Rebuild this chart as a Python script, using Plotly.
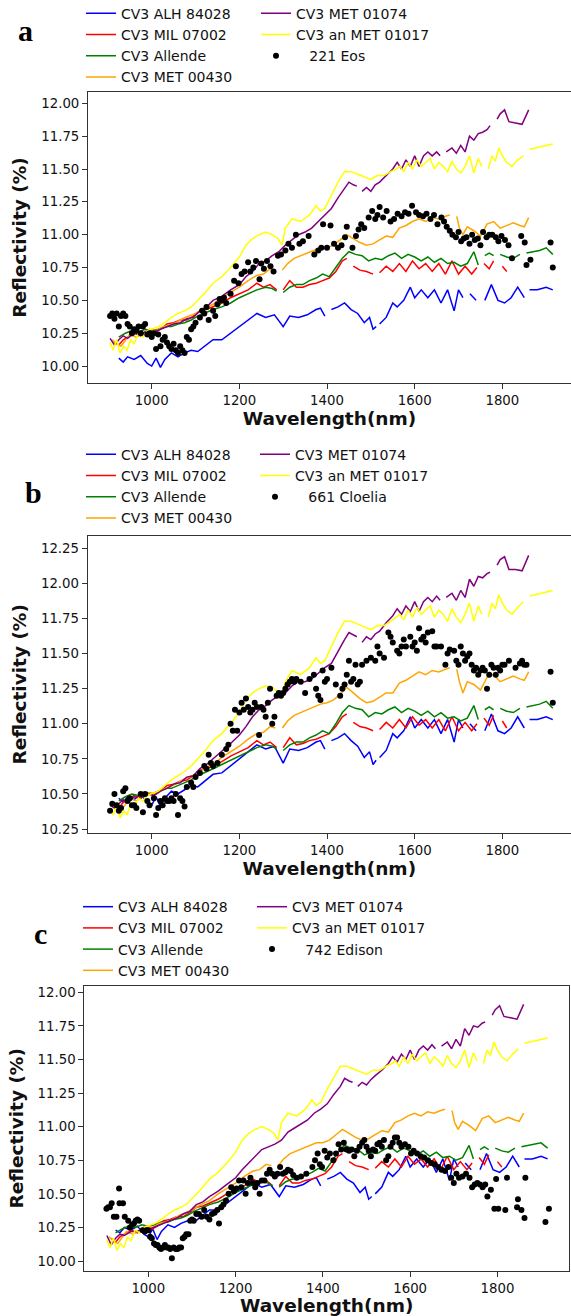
import plotly.graph_objects as go

W, H = 571, 1316

# ---------------- data ----------------
# Wavelength grids (nm) of each meteorite spectrum (None in values = gap)
wl_alh = [925, 935, 945, 960, 975, 990, 1000, 1010, 1020, 1030,
          1045, 1060, 1075, 1090, 1105, 1120, 1140, 1160, 1180, 1200,
          1220, 1240, 1260, 1280, 1300, 1315, 1335, 1355, 1375, 1385,
          1395, 1403, 1410, 1425, 1440, 1455, 1470, 1485, 1497, 1505,
          1512, 1516, 1520, 1535, 1550, 1560, 1575, 1590, 1600, 1615,
          1630, 1645, 1660, 1675, 1690, 1700, 1710, 1718, 1726, 1740,
          1750, 1760, 1775, 1790, 1805, 1820, 1835, 1850, 1856, 1862,
          1880, 1900, 1915]
alh_a = [10.06, 10.03, 10.07, 10.05, 10.08, 10.02, 10.00, 10.06, 9.99, 10.05,
         10.10, 10.07, 10.10, 10.12, 10.11, 10.15, 10.20, 10.20, 10.25, 10.30,
         10.35, 10.40, 10.37, 10.39, 10.30, 10.38, 10.37, 10.39, 10.43, 10.44,
         10.38, None, 10.43, 10.45, 10.48, 10.43, 10.40, 10.33, 10.37, 10.28,
         10.30, None, 10.32, 10.37, 10.48, 10.45, 10.50, 10.60, 10.52, 10.58,
         10.52, 10.58, 10.48, 10.58, 10.42, 10.58, 10.52, None, 10.55, 10.50,
         None, 10.50, 10.62, 10.50, 10.48, 10.52, 10.60, 10.52, None, 10.58,
         10.58, 10.60, 10.58]
alh_b = [10.47, 10.44, 10.48, 10.46, 10.50, 10.44, 10.42, 10.48, 10.41, 10.47,
         10.52, 10.50, 10.53, 10.56, 10.55, 10.59, 10.64, 10.65, 10.70, 10.75,
         10.80, 10.85, 10.82, 10.84, 10.72, 10.82, 10.81, 10.83, 10.87, 10.88,
         10.82, None, 10.88, 10.90, 10.93, 10.88, 10.84, 10.76, 10.80, 10.71,
         10.74, None, 10.76, 10.81, 10.93, 10.90, 10.95, 11.05, 10.97, 11.03,
         10.97, 11.03, 10.93, 11.03, 10.87, 11.03, 10.97, None, 11.00, 10.95,
         None, 10.95, 11.07, 10.95, 10.93, 10.97, 11.05, 10.97, None, 11.03,
         11.03, 11.05, 11.03]
alh_c = [10.23, 10.21, 10.25, 10.23, 10.26, 10.20, 10.18, 10.24, 10.16, 10.22,
         10.27, 10.25, 10.28, 10.30, 10.29, 10.33, 10.38, 10.38, 10.43, 10.48,
         10.53, 10.58, 10.55, 10.57, 10.48, 10.56, 10.55, 10.57, 10.61, 10.62,
         10.56, None, 10.61, 10.63, 10.66, 10.61, 10.58, 10.51, 10.55, 10.46,
         10.48, None, 10.50, 10.55, 10.66, 10.63, 10.68, 10.78, 10.70, 10.76,
         10.70, 10.76, 10.66, 10.76, 10.60, 10.76, 10.70, None, 10.73, 10.68,
         None, 10.68, 10.80, 10.68, 10.66, 10.70, 10.78, 10.70, None, 10.76,
         10.76, 10.78, 10.76]

wl_mil = [915, 925, 935, 945, 960, 975, 990, 1005, 1020, 1035,
          1050, 1065, 1080, 1095, 1110, 1125, 1140, 1160, 1180, 1200,
          1220, 1240, 1255, 1270, 1285, 1292, 1300, 1315, 1330, 1345,
          1360, 1375, 1390, 1405, 1420, 1435, 1445, 1452, 1460, 1475,
          1490, 1505, 1512, 1520, 1535, 1550, 1565, 1580, 1595, 1610,
          1625, 1640, 1655, 1670, 1685, 1700, 1715, 1730, 1742, 1750,
          1758, 1770, 1780, 1790, 1800, 1810]
mil_a = [10.18, 10.16, 10.20, 10.22, 10.25, 10.23, 10.27, 10.25, 10.28, 10.32,
         10.33, 10.35, 10.35, 10.38, 10.42, 10.43, 10.45, 10.48, 10.52, 10.55,
         10.58, 10.63, 10.60, 10.62, 10.58, None, 10.58, 10.65, 10.60, 10.60,
         10.62, 10.63, 10.65, 10.67, 10.72, 10.80, 10.82, None, 10.76, 10.73,
         10.72, 10.70, None, 10.71, 10.76, 10.72, 10.78, 10.72, 10.80, 10.74,
         10.78, 10.72, 10.78, 10.70, 10.80, 10.70, 10.76, 10.70, 10.75, None,
         10.78, 10.74, 10.80, None, 10.76, 10.72]
mil_b = [10.42, 10.40, 10.44, 10.46, 10.49, 10.47, 10.51, 10.49, 10.52, 10.56,
         10.57, 10.59, 10.60, 10.63, 10.67, 10.68, 10.70, 10.73, 10.77, 10.80,
         10.83, 10.88, 10.85, 10.87, 10.83, None, 10.83, 10.90, 10.85, 10.86,
         10.88, 10.89, 10.91, 10.93, 10.98, 11.05, 11.07, None, 11.01, 10.98,
         10.97, 10.95, None, 10.96, 11.01, 10.97, 11.03, 10.97, 11.05, 10.99,
         11.03, 10.97, 11.03, 10.95, 11.05, 10.95, 11.01, 10.95, 11.00, None,
         11.04, 10.99, 11.06, None, 11.02, 10.97]
mil_c = [10.17, 10.14, 10.18, 10.20, 10.23, 10.21, 10.25, 10.23, 10.26, 10.30,
         10.31, 10.33, 10.33, 10.36, 10.40, 10.41, 10.43, 10.46, 10.50, 10.53,
         10.56, 10.61, 10.58, 10.60, 10.56, None, 10.56, 10.63, 10.58, 10.58,
         10.60, 10.61, 10.63, 10.65, 10.70, 10.78, 10.80, None, 10.74, 10.71,
         10.70, 10.68, None, 10.69, 10.74, 10.70, 10.76, 10.70, 10.78, 10.72,
         10.76, 10.70, 10.76, 10.68, 10.78, 10.68, 10.74, 10.68, 10.73, None,
         10.77, 10.72, 10.79, None, 10.74, 10.70]

wl_allende = [925, 940, 955, 970, 985, 1000, 1015, 1030, 1045, 1060,
              1075, 1090, 1105, 1120, 1140, 1160, 1180, 1200, 1220, 1240,
              1260, 1275, 1285, 1293, 1300, 1315, 1330, 1345, 1360, 1375,
              1390, 1405, 1420, 1435, 1450, 1465, 1480, 1495, 1510, 1525,
              1540, 1555, 1570, 1585, 1600, 1615, 1630, 1645, 1660, 1675,
              1690, 1705, 1720, 1735, 1745, 1752, 1760, 1770, 1780, 1787,
              1795, 1810, 1825, 1840, 1848, 1855, 1870, 1885, 1900, 1915]
allende_a = [10.22, 10.25, 10.27, 10.26, 10.28, 10.27, 10.28, 10.30, 10.30, 10.32,
             10.33, 10.35, 10.38, 10.40, 10.43, 10.45, 10.48, 10.52, 10.55, 10.58,
             10.60, 10.59, 10.57, None, 10.56, 10.60, 10.62, 10.62, 10.65, 10.67,
             10.70, 10.68, 10.75, 10.82, 10.87, 10.85, 10.84, 10.80, 10.82, 10.81,
             10.84, 10.86, 10.82, 10.85, 10.83, 10.80, 10.83, 10.79, 10.82, 10.78,
             10.79, 10.76, 10.78, 10.87, 10.77, None, 10.84, 10.86, 10.84, None,
             10.85, 10.83, 10.82, 10.85, None, 10.86, 10.87, 10.88, 10.90, 10.85]
allende_b = [10.45, 10.48, 10.50, 10.49, 10.51, 10.50, 10.52, 10.54, 10.54, 10.56,
             10.58, 10.60, 10.63, 10.65, 10.68, 10.71, 10.74, 10.77, 10.80, 10.83,
             10.85, 10.84, 10.82, None, 10.81, 10.85, 10.87, 10.87, 10.90, 10.92,
             10.95, 10.93, 11.00, 11.08, 11.13, 11.11, 11.10, 11.05, 11.08, 11.07,
             11.10, 11.12, 11.08, 11.11, 11.09, 11.06, 11.09, 11.05, 11.08, 11.04,
             11.05, 11.02, 11.04, 11.13, 11.03, None, 11.10, 11.12, 11.10, None,
             11.11, 11.09, 11.08, 11.11, None, 11.12, 11.13, 11.14, 11.16, 11.11]
allende_c = [10.21, 10.24, 10.26, 10.25, 10.27, 10.26, 10.27, 10.29, 10.29, 10.31,
             10.32, 10.34, 10.37, 10.39, 10.42, 10.44, 10.47, 10.51, 10.54, 10.57,
             10.59, 10.58, 10.56, None, 10.55, 10.59, 10.61, 10.61, 10.64, 10.66,
             10.69, 10.67, 10.74, 10.81, 10.86, 10.84, 10.83, 10.79, 10.81, 10.80,
             10.83, 10.85, 10.81, 10.84, 10.82, 10.79, 10.82, 10.78, 10.81, 10.77,
             10.78, 10.75, 10.77, 10.86, 10.76, None, 10.83, 10.85, 10.83, None,
             10.84, 10.82, 10.81, 10.84, None, 10.85, 10.86, 10.87, 10.88, 10.84]

wl_met00430 = [910, 920, 930, 940, 950, 965, 980, 995, 1010, 1025,
               1040, 1055, 1070, 1085, 1100, 1120, 1140, 1160, 1180, 1200,
               1220, 1240, 1255, 1270, 1282, 1290, 1298, 1310, 1325, 1340,
               1355, 1370, 1385, 1400, 1415, 1430, 1445, 1460, 1475, 1490,
               1505, 1520, 1535, 1550, 1565, 1580, 1595, 1610, 1625, 1640,
               1655, 1670, 1680, 1688, 1696, 1702, 1710, 1720, 1735, 1750,
               1765, 1780, 1795, 1810, 1825, 1840, 1850, 1860]
met00430_a = [10.20, 10.17, 10.15, 10.20, 10.24, 10.22, 10.25, 10.28, 10.27, 10.30,
              10.31, 10.33, 10.36, 10.38, 10.40, 10.44, 10.47, 10.52, 10.56, 10.60,
              10.65, 10.69, 10.70, 10.74, 10.73, None, 10.73, 10.78, 10.82, 10.84,
              10.86, 10.88, 10.90, 10.90, 10.92, 10.96, 11.00, 10.97, 10.94, 10.92,
              10.93, 10.96, 10.99, 10.98, 11.05, 11.07, 11.10, 11.12, 11.10, 11.13,
              11.12, 11.14, 11.15, None, 11.14, 11.05, 11.00, 11.06, 11.03, 10.99,
              11.08, 11.10, 11.05, 11.07, 11.09, 11.07, 11.06, 11.13]
met00430_b = [10.43, 10.40, 10.38, 10.43, 10.47, 10.45, 10.48, 10.51, 10.50, 10.53,
              10.55, 10.57, 10.60, 10.62, 10.64, 10.68, 10.71, 10.76, 10.80, 10.84,
              10.89, 10.93, 10.94, 10.98, 10.97, None, 10.97, 11.02, 11.06, 11.08,
              11.10, 11.12, 11.14, 11.15, 11.17, 11.21, 11.26, 11.22, 11.18, 11.15,
              11.16, 11.19, 11.22, 11.22, 11.29, 11.31, 11.34, 11.37, 11.35, 11.38,
              11.37, 11.39, 11.40, None, 11.39, 11.30, 11.22, 11.30, 11.28, 11.24,
              11.33, 11.35, 11.30, 11.32, 11.34, 11.32, 11.31, 11.37]
met00430_c = [10.18, 10.15, 10.13, 10.18, 10.22, 10.20, 10.23, 10.26, 10.25, 10.28,
              10.29, 10.31, 10.34, 10.36, 10.38, 10.42, 10.45, 10.50, 10.54, 10.58,
              10.63, 10.67, 10.68, 10.72, 10.71, None, 10.71, 10.76, 10.80, 10.82,
              10.84, 10.86, 10.88, 10.88, 10.90, 10.94, 10.98, 10.95, 10.92, 10.90,
              10.91, 10.94, 10.97, 10.96, 11.03, 11.05, 11.08, 11.10, 11.08, 11.11,
              11.10, 11.12, 11.13, None, 11.12, 11.03, 10.98, 11.04, 11.01, 10.97,
              11.06, 11.08, 11.03, 11.05, 11.07, 11.05, 11.04, 11.10]

wl_met01074 = [905, 915, 925, 935, 945, 960, 975, 990, 1005, 1020,
               1035, 1050, 1065, 1080, 1095, 1110, 1125, 1140, 1160, 1180,
               1200, 1215, 1230, 1245, 1260, 1275, 1290, 1305, 1320, 1335,
               1350, 1365, 1380, 1395, 1410, 1425, 1440, 1450, 1460, 1468,
               1474, 1480, 1490, 1500, 1510, 1520, 1535, 1550, 1560, 1570,
               1580, 1590, 1600, 1610, 1620, 1630, 1640, 1650, 1658, 1665,
               1672, 1685, 1695, 1705, 1715, 1725, 1735, 1745, 1755, 1765,
               1772, 1780, 1788, 1795, 1805, 1815, 1830, 1845, 1860]
met01074_a = [10.21, 10.16, 10.20, 10.23, 10.21, 10.25, 10.24, 10.27, 10.26, 10.28,
              10.30, 10.32, 10.33, 10.36, 10.37, 10.42, 10.45, 10.50, 10.53, 10.58,
              10.62, 10.68, 10.72, 10.78, 10.80, 10.84, 10.87, 10.92, 10.96, 11.00,
              11.02, 11.05, 11.10, 11.15, 11.20, 11.28, 11.35, 11.40, 11.38, 11.37,
              None, 11.33, 11.36, 11.33, 11.38, 11.40, 11.45, 11.50, 11.55, 11.50,
              11.57, 11.52, 11.60, 11.52, 11.60, 11.63, 11.60, 11.63, 11.60, None,
              11.63, 11.66, 11.62, 11.68, 11.63, 11.75, 11.72, 11.77, 11.78, 11.80,
              11.83, None, 11.88, 11.92, 11.95, 11.86, 11.85, 11.84, 11.95]
met01074_b = [10.42, 10.40, 10.43, 10.46, 10.44, 10.48, 10.47, 10.50, 10.49, 10.52,
              10.54, 10.57, 10.58, 10.62, 10.63, 10.68, 10.71, 10.75, 10.80, 10.86,
              10.92, 10.98, 11.05, 11.10, 11.13, 11.17, 11.20, 11.22, 11.27, 11.30,
              11.30, 11.32, 11.36, 11.40, 11.43, 11.52, 11.60, 11.65, 11.63, 11.62,
              None, 11.58, 11.62, 11.60, 11.64, 11.66, 11.72, 11.77, 11.82, 11.78,
              11.84, 11.80, 11.87, 11.80, 11.87, 11.90, 11.87, 11.91, 11.88, None,
              11.90, 11.93, 11.88, 11.95, 11.90, 12.03, 11.98, 12.05, 12.04, 12.07,
              12.08, None, 12.13, 12.17, 12.19, 12.10, 12.10, 12.09, 12.20]
met01074_c = [10.19, 10.12, 10.17, 10.20, 10.19, 10.22, 10.22, 10.25, 10.24, 10.26,
              10.28, 10.30, 10.32, 10.35, 10.37, 10.42, 10.44, 10.48, 10.52, 10.57,
              10.62, 10.68, 10.73, 10.78, 10.83, 10.85, 10.87, 10.90, 10.96, 10.99,
              11.02, 11.05, 11.10, 11.13, 11.17, 11.24, 11.30, 11.36, 11.34, 11.33,
              None, 11.30, 11.33, 11.31, 11.35, 11.38, 11.42, 11.47, 11.52, 11.48,
              11.54, 11.50, 11.57, 11.50, 11.57, 11.60, 11.57, 11.61, 11.58, None,
              11.60, 11.63, 11.58, 11.65, 11.60, 11.73, 11.68, 11.75, 11.74, 11.77,
              11.78, None, 11.83, 11.87, 11.90, 11.82, 11.81, 11.80, 11.91]

wl_met01017 = [905, 912, 920, 928, 936, 944, 952, 960, 970, 980,
               990, 1000, 1015, 1030, 1045, 1060, 1075, 1090, 1105, 1120,
               1140, 1160, 1180, 1200, 1215, 1230, 1245, 1260, 1275, 1288,
               1297, 1305, 1320, 1340, 1360, 1375, 1385, 1395, 1410, 1425,
               1440, 1455, 1470, 1485, 1500, 1515, 1530, 1545, 1558, 1566,
               1575, 1585, 1595, 1605, 1615, 1625, 1635, 1645, 1655, 1665,
               1675, 1685, 1695, 1705, 1715, 1725, 1735, 1745, 1753, 1760,
               1768, 1776, 1784, 1792, 1800, 1810, 1822, 1835, 1848, 1855,
               1862, 1875, 1890, 1905, 1915]
met01017_a = [10.18, 10.12, 10.20, 10.10, 10.15, 10.12, 10.20, 10.17, 10.25, 10.22,
              10.27, 10.28, 10.30, 10.33, 10.37, 10.40, 10.42, 10.45, 10.50, 10.55,
              10.63, 10.68, 10.75, 10.83, 10.92, 10.97, 11.00, 11.02, 11.00, 10.97,
              10.92, 11.05, 11.12, 11.10, 11.15, 11.22, 11.18, 11.20, 11.30, 11.40,
              11.48, 11.48, 11.46, 11.44, 11.42, 11.45, 11.45, 11.48, 11.50, 11.52,
              11.48, 11.55, 11.50, 11.57, 11.52, 11.55, 11.58, 11.50, 11.55, 11.52,
              11.48, 11.56, 11.50, 11.47, 11.52, 11.60, 11.47, 11.58, 11.52, None,
              11.50, 11.60, 11.56, 11.66, 11.60, 11.55, 11.52, 11.57, 11.60, None,
              11.65, 11.66, 11.67, 11.68, 11.69]
met01017_b = [10.40, 10.35, 10.42, 10.33, 10.38, 10.35, 10.43, 10.40, 10.47, 10.45,
              10.49, 10.50, 10.52, 10.56, 10.60, 10.63, 10.66, 10.70, 10.75, 10.80,
              10.88, 10.93, 11.00, 11.08, 11.17, 11.22, 11.25, 11.27, 11.26, 11.23,
              11.20, 11.30, 11.38, 11.35, 11.40, 11.47, 11.43, 11.45, 11.55, 11.65,
              11.73, 11.73, 11.71, 11.69, 11.67, 11.70, 11.70, 11.73, 11.76, 11.78,
              11.74, 11.81, 11.76, 11.83, 11.78, 11.81, 11.84, 11.76, 11.81, 11.78,
              11.73, 11.82, 11.76, 11.72, 11.78, 11.86, 11.73, 11.84, 11.78, None,
              11.76, 11.86, 11.82, 11.92, 11.86, 11.81, 11.78, 11.83, 11.87, None,
              11.91, 11.92, 11.93, 11.94, 11.95]
met01017_c = [10.16, 10.10, 10.17, 10.08, 10.13, 10.10, 10.18, 10.15, 10.23, 10.21,
              10.25, 10.26, 10.28, 10.31, 10.35, 10.38, 10.40, 10.43, 10.48, 10.53,
              10.61, 10.66, 10.73, 10.81, 10.90, 10.95, 10.98, 11.00, 10.98, 10.95,
              10.90, 11.03, 11.10, 11.08, 11.13, 11.20, 11.16, 11.18, 11.28, 11.37,
              11.45, 11.45, 11.43, 11.41, 11.39, 11.42, 11.42, 11.45, 11.47, 11.49,
              11.45, 11.52, 11.47, 11.54, 11.49, 11.52, 11.55, 11.47, 11.52, 11.49,
              11.45, 11.53, 11.47, 11.44, 11.49, 11.57, 11.44, 11.55, 11.49, None,
              11.47, 11.57, 11.53, 11.63, 11.57, 11.52, 11.49, 11.54, 11.58, None,
              11.62, 11.63, 11.64, 11.65, 11.66]

# Asteroid spectra: (wavelength nm, reflectivity %)
eos = [(905, 10.38), (910, 10.40), (915, 10.36), (920, 10.40), (925, 10.30), (930, 10.38),
       (935, 10.40), (940, 10.38), (945, 10.32), (950, 10.30), (955, 10.25), (960, 10.28),
       (965, 10.27), (970, 10.30), (975, 10.25), (980, 10.30), (985, 10.32), (990, 10.24),
       (995, 10.25), (1000, 10.22), (1005, 10.25), (1010, 10.13), (1015, 10.24), (1020, 10.15),
       (1025, 10.20), (1030, 10.22), (1035, 10.18), (1040, 10.15), (1045, 10.13), (1050, 10.17),
       (1055, 10.12), (1060, 10.10), (1065, 10.15), (1070, 10.12), (1075, 10.10), (1080, 10.22),
       (1085, 10.20), (1090, 10.28), (1095, 10.30), (1100, 10.33), (1110, 10.37), (1115, 10.42),
       (1120, 10.40), (1125, 10.45), (1130, 10.35), (1140, 10.42), (1145, 10.38), (1150, 10.47),
       (1155, 10.51), (1160, 10.50), (1165, 10.52), (1170, 10.48), (1180, 10.55), (1188, 10.65),
       (1192, 10.76), (1198, 10.63), (1205, 10.70), (1212, 10.72), (1220, 10.79), (1225, 10.72),
       (1232, 10.75), (1238, 10.80), (1246, 10.66), (1250, 10.78), (1256, 10.74), (1263, 10.80),
       (1271, 10.76), (1278, 10.72), (1288, 10.84), (1295, 10.85), (1305, 10.88), (1312, 10.93),
       (1320, 10.90), (1329, 11.00), (1337, 10.93), (1345, 10.95), (1358, 10.99), (1371, 10.85),
       (1380, 10.88), (1387, 10.90), (1391, 11.08), (1400, 10.90), (1408, 11.07), (1416, 10.93),
       (1425, 10.90), (1433, 10.92), (1441, 10.98), (1445, 11.06), (1458, 10.90), (1466, 10.99),
       (1472, 11.04), (1478, 11.08), (1485, 11.05), (1495, 11.13), (1503, 11.18), (1510, 11.12),
       (1515, 11.15), (1520, 11.21), (1528, 11.13), (1536, 11.18), (1545, 11.10), (1553, 11.12),
       (1561, 11.16), (1570, 11.14), (1578, 11.17), (1586, 11.16), (1594, 11.22), (1603, 11.17),
       (1610, 11.15), (1619, 11.14), (1627, 11.16), (1636, 11.12), (1644, 11.15), (1652, 11.08),
       (1661, 11.13), (1667, 11.10), (1673, 11.06), (1680, 11.03), (1686, 11.00), (1694, 10.98),
       (1700, 11.02), (1706, 10.95), (1712, 10.97), (1718, 10.98), (1725, 10.93), (1731, 11.00),
       (1737, 10.96), (1744, 10.97), (1750, 10.92), (1756, 11.02), (1764, 10.98), (1770, 11.00),
       (1777, 11.00), (1785, 10.98), (1791, 10.95), (1798, 10.99), (1806, 10.96), (1814, 10.92),
       (1822, 10.82), (1843, 10.99), (1851, 10.94), (1855, 10.77), (1864, 10.81), (1910, 10.94),
       (1915, 10.75)]

cloelia = [(905, 10.38), (910, 10.43), (915, 10.50), (920, 10.42), (925, 10.38), (930, 10.40),
           (935, 10.52), (940, 10.54), (945, 10.45), (950, 10.47), (955, 10.42), (960, 10.42),
           (965, 10.40), (975, 10.50), (980, 10.37), (985, 10.50), (990, 10.45), (995, 10.42),
           (1005, 10.47), (1010, 10.35), (1015, 10.40), (1020, 10.45), (1025, 10.42), (1030, 10.47),
           (1035, 10.45), (1040, 10.45), (1045, 10.47), (1050, 10.45), (1055, 10.50), (1060, 10.35),
           (1065, 10.47), (1070, 10.45), (1075, 10.41), (1080, 10.55), (1090, 10.58), (1095, 10.55),
           (1100, 10.62), (1110, 10.65), (1120, 10.70), (1125, 10.68), (1130, 10.78), (1135, 10.72),
           (1140, 10.70), (1150, 10.72), (1160, 10.78), (1170, 10.82), (1175, 10.85), (1180, 11.00),
           (1185, 10.95), (1190, 11.10), (1195, 10.95), (1200, 11.08), (1205, 11.15), (1210, 11.10),
           (1215, 11.18), (1220, 11.12), (1225, 11.08), (1230, 11.10), (1235, 11.15), (1240, 11.12),
           (1245, 10.92), (1250, 11.12), (1255, 11.10), (1260, 11.05), (1265, 11.15), (1270, 11.25),
           (1275, 11.00), (1280, 11.05), (1285, 11.20), (1290, 11.22), (1295, 11.20), (1300, 11.22),
           (1305, 11.25), (1310, 11.28), (1315, 11.30), (1320, 11.32), (1325, 11.30), (1330, 11.32),
           (1340, 11.30), (1350, 11.22), (1360, 11.32), (1370, 11.35), (1375, 11.25), (1380, 11.20),
           (1385, 11.17), (1390, 11.38), (1395, 11.30), (1400, 11.32), (1410, 11.40), (1420, 11.28),
           (1430, 11.20), (1435, 11.25), (1440, 11.28), (1445, 11.35), (1450, 11.45), (1455, 11.30),
           (1460, 11.32), (1465, 11.42), (1470, 11.28), (1475, 11.30), (1480, 11.42), (1490, 11.45),
           (1500, 11.47), (1510, 11.45), (1515, 11.55), (1520, 11.50), (1530, 11.47), (1540, 11.65),
           (1545, 11.62), (1550, 11.58), (1560, 11.52), (1565, 11.50), (1570, 11.55), (1575, 11.60),
           (1580, 11.55), (1590, 11.62), (1595, 11.55), (1600, 11.58), (1605, 11.52), (1610, 11.68),
           (1615, 11.60), (1620, 11.62), (1625, 11.58), (1630, 11.65), (1640, 11.66), (1645, 11.55),
           (1650, 11.55), (1660, 11.55), (1670, 11.42), (1675, 11.50), (1680, 11.53), (1690, 11.52),
           (1695, 11.45), (1700, 11.42), (1705, 11.55), (1710, 11.50), (1715, 11.45), (1720, 11.48),
           (1725, 11.50), (1730, 11.42), (1735, 11.38), (1740, 11.40), (1745, 11.35), (1750, 11.38),
           (1755, 11.40), (1760, 11.38), (1765, 11.25), (1770, 11.35), (1775, 11.42), (1780, 11.40),
           (1785, 11.35), (1790, 11.40), (1795, 11.38), (1800, 11.42), (1805, 11.42), (1815, 11.45),
           (1830, 11.40), (1840, 11.43), (1845, 11.45), (1850, 11.42), (1855, 11.42), (1910, 11.37),
           (1915, 11.15)]

edison = [(904, 10.39), (908, 10.40), (912, 10.40), (916, 10.43), (921, 10.33), (927, 10.33),
          (933, 10.54), (934, 10.43), (942, 10.43), (946, 10.33), (954, 10.30), (958, 10.25),
          (963, 10.27), (967, 10.28), (971, 10.30), (975, 10.31), (979, 10.30), (987, 10.23),
          (992, 10.22), (996, 10.23), (1000, 10.23), (1004, 10.18), (1008, 10.17), (1013, 10.13),
          (1017, 10.12), (1021, 10.12), (1025, 10.10), (1029, 10.09), (1034, 10.10), (1038, 10.12),
          (1042, 10.10), (1046, 10.10), (1050, 10.09), (1054, 10.02), (1058, 10.10), (1063, 10.09),
          (1067, 10.09), (1071, 10.10), (1075, 10.10), (1079, 10.17), (1083, 10.18), (1087, 10.20),
          (1092, 10.20), (1096, 10.30), (1100, 10.31), (1104, 10.30), (1110, 10.35), (1116, 10.35),
          (1122, 10.33), (1128, 10.38), (1134, 10.33), (1140, 10.31), (1146, 10.35), (1152, 10.36),
          (1158, 10.38), (1162, 10.28), (1167, 10.40), (1172, 10.42), (1178, 10.45), (1184, 10.50),
          (1190, 10.55), (1196, 10.52), (1202, 10.54), (1208, 10.60), (1213, 10.55), (1218, 10.60),
          (1223, 10.50), (1228, 10.58), (1234, 10.62), (1240, 10.58), (1245, 10.55), (1250, 10.58),
          (1255, 10.50), (1260, 10.60), (1266, 10.60), (1272, 10.65), (1278, 10.68), (1284, 10.65),
          (1290, 10.63), (1296, 10.65), (1302, 10.70), (1308, 10.65), (1314, 10.66), (1320, 10.68),
          (1326, 10.67), (1332, 10.64), (1340, 10.62), (1350, 10.63), (1362, 10.65), (1376, 10.70),
          (1382, 10.75), (1388, 10.80), (1393, 10.72), (1398, 10.70), (1404, 10.82), (1410, 10.77),
          (1416, 10.80), (1424, 10.75), (1430, 10.80), (1436, 10.87), (1442, 10.83), (1448, 10.88),
          (1454, 10.83), (1460, 10.82), (1466, 10.83), (1472, 10.78), (1478, 10.82), (1484, 10.85),
          (1490, 10.88), (1495, 10.90), (1500, 10.85), (1505, 10.82), (1510, 10.78), (1515, 10.83),
          (1520, 10.82), (1525, 10.87), (1530, 10.88), (1535, 10.85), (1540, 10.90), (1545, 10.75),
          (1550, 10.78), (1555, 10.85), (1560, 10.88), (1565, 10.92), (1570, 10.92), (1575, 10.88),
          (1580, 10.85), (1588, 10.87), (1596, 10.85), (1602, 10.80), (1608, 10.82), (1616, 10.80),
          (1624, 10.78), (1632, 10.77), (1640, 10.75), (1648, 10.73), (1656, 10.72), (1664, 10.70),
          (1672, 10.68), (1680, 10.67), (1688, 10.70), (1694, 10.62), (1700, 10.58), (1706, 10.65),
          (1712, 10.62), (1720, 10.63), (1728, 10.65), (1736, 10.62), (1742, 10.55), (1748, 10.57),
          (1754, 10.58), (1760, 10.57), (1766, 10.55), (1772, 10.57), (1777, 10.48), (1785, 10.53),
          (1793, 10.39), (1797, 10.61), (1802, 10.39), (1818, 10.38), (1822, 10.62), (1845, 10.40),
          (1847, 10.46), (1855, 10.38), (1862, 10.32), (1864, 10.62), (1910, 10.29), (1918, 10.39)]

x_ticks = [1000, 1200, 1400, 1600, 1800]
y_ticks_a = [10.00, 10.25, 10.50, 10.75, 11.00, 11.25, 11.50, 11.75, 12.00]
y_ticks_b = [10.25, 10.50, 10.75, 11.00, 11.25, 11.50, 11.75, 12.00, 12.25]
y_ticks_c = [10.00, 10.25, 10.50, 10.75, 11.00, 11.25, 11.50, 11.75, 12.00]

panel_labels = ["a", "b", "c"]
asteroid_names = ["221 Eos", "661 Cloelia", "742 Edison"]

# ---------------- figure ----------------
# (name, colour, wavelengths, per-panel values, legend column, rank in column)
series = [
    ("CV3 ALH 84028", "#0000FF", wl_alh, (alh_a, alh_b, alh_c), 0, 1),
    ("CV3 MIL 07002", "#FF0000", wl_mil, (mil_a, mil_b, mil_c), 0, 2),
    ("CV3 Allende", "#008000", wl_allende, (allende_a, allende_b, allende_c), 0, 3),
    ("CV3 MET 00430", "#FFA500", wl_met00430, (met00430_a, met00430_b, met00430_c), 0, 4),
    ("CV3 MET 01074", "#800080", wl_met01074, (met01074_a, met01074_b, met01074_c), 1, 1),
    ("CV3 an MET 01017", "#FFFF00", wl_met01017, (met01017_a, met01017_b, met01017_c), 1, 2),
]
asteroids = [eos, cloelia, edison]


def legend_name(p, col):
    idx = 2 * p + col + 1
    return "legend" if idx == 1 else "legend%d" % idx


fig = go.Figure()
for p in range(3):
    xa = "x" if p == 0 else "x%d" % (p + 1)
    ya = "y" if p == 0 else "y%d" % (p + 1)
    for name, color, wl, vals, col, rank in series:
        v = vals[p]
        assert len(v) == len(wl), (name, p, len(v), len(wl))
        fig.add_trace(go.Scatter(x=wl, y=v, mode="lines", name=name,
                                 line=dict(color=color, width=1.5),
                                 connectgaps=False, xaxis=xa, yaxis=ya,
                                 legend=legend_name(p, col), legendrank=rank))
    pts = asteroids[p]
    fig.add_trace(go.Scatter(x=[q[0] for q in pts], y=[q[1] for q in pts],
                             mode="markers", name="\u00a0\u00a0\u00a0" + asteroid_names[p],
                             marker=dict(color="black", size=6),
                             xaxis=xa, yaxis=ya, legend=legend_name(p, 1), legendrank=3))

xdom = [[88 / W, 1.0], [87.7 / W, 1.0], [84.3 / W, 569 / W]]
ydom = [[1 - 382.7 / H, 1 - 92.3 / H], [1 - 832.7 / H, 1 - 536 / H], [1 - 1271 / H, 1 - 985.7 / H]]
xrng = [[854.7, 1956.6], [854.0, 1956.6], [853.3, 1964.0]]
yrng = [[9.873, 12.084], [10.224, 12.338], [9.926, 12.049]]
yticks = [y_ticks_a, y_ticks_b, y_ticks_c]
leg_x = [(81, 256), (81, 255), (78, 252)]
leg_top = [-2.3, 438.7, 891.1]
lab_pos = [(25, 30.5), (33.5, 492.5), (40.5, 933.5)]

tickfont = dict(family="DejaVu Sans", size=13.3, color="#111111")
titlefont = dict(family="DejaVu Sans", size=18.5, color="#111111", weight="bold")
layout = dict(width=W, height=H, margin=dict(l=0, r=0, t=0, b=0, pad=0, autoexpand=False),
              paper_bgcolor="white", plot_bgcolor="white", showlegend=True)
for p in range(3):
    sfx = "" if p == 0 else str(p + 1)
    layout["xaxis" + sfx] = dict(
        domain=xdom[p], range=xrng[p], anchor="y" + sfx,
        tickvals=x_ticks, ticktext=[str(t) for t in x_ticks],
        showline=True, linecolor="#333333", linewidth=1, mirror=True,
        ticks="outside", ticklen=5, tickwidth=1, tickcolor="#333333",
        showgrid=False, zeroline=False, tickfont=tickfont,
        title=dict(text="Wavelength(nm)", font=titlefont, standoff=3))
    layout["yaxis" + sfx] = dict(
        domain=ydom[p], range=yrng[p], anchor="x" + sfx,
        tickvals=yticks[p], ticktext=["%.2f" % t for t in yticks[p]],
        showline=True, linecolor="#333333", linewidth=1, mirror=(p == 2),
        ticks="outside", ticklen=5, tickwidth=1, tickcolor="#333333",
        showgrid=False, zeroline=False, tickfont=tickfont,
        title=dict(text="Reflectivity (%)", font=titlefont, standoff=9))
    for col in range(2):
        layout[legend_name(p, col)] = dict(
            x=leg_x[p][col] / W, y=1 - leg_top[p] / H, xanchor="left", yanchor="top",
            orientation="v", traceorder="normal",
            bgcolor="rgba(0,0,0,0)", borderwidth=0,
            font=dict(family="DejaVu Sans", size=14, color="#111111"))

fig.update_layout(**layout)

for p in range(3):
    fig.add_annotation(x=lab_pos[p][0] / W, y=1 - lab_pos[p][1] / H, xref="paper", yref="paper",
                       text=panel_labels[p], showarrow=False, xanchor="center", yanchor="middle",
                       font=dict(family="Liberation Serif", size=30, color="black", weight="bold"))

fig.write_html("out.html")
